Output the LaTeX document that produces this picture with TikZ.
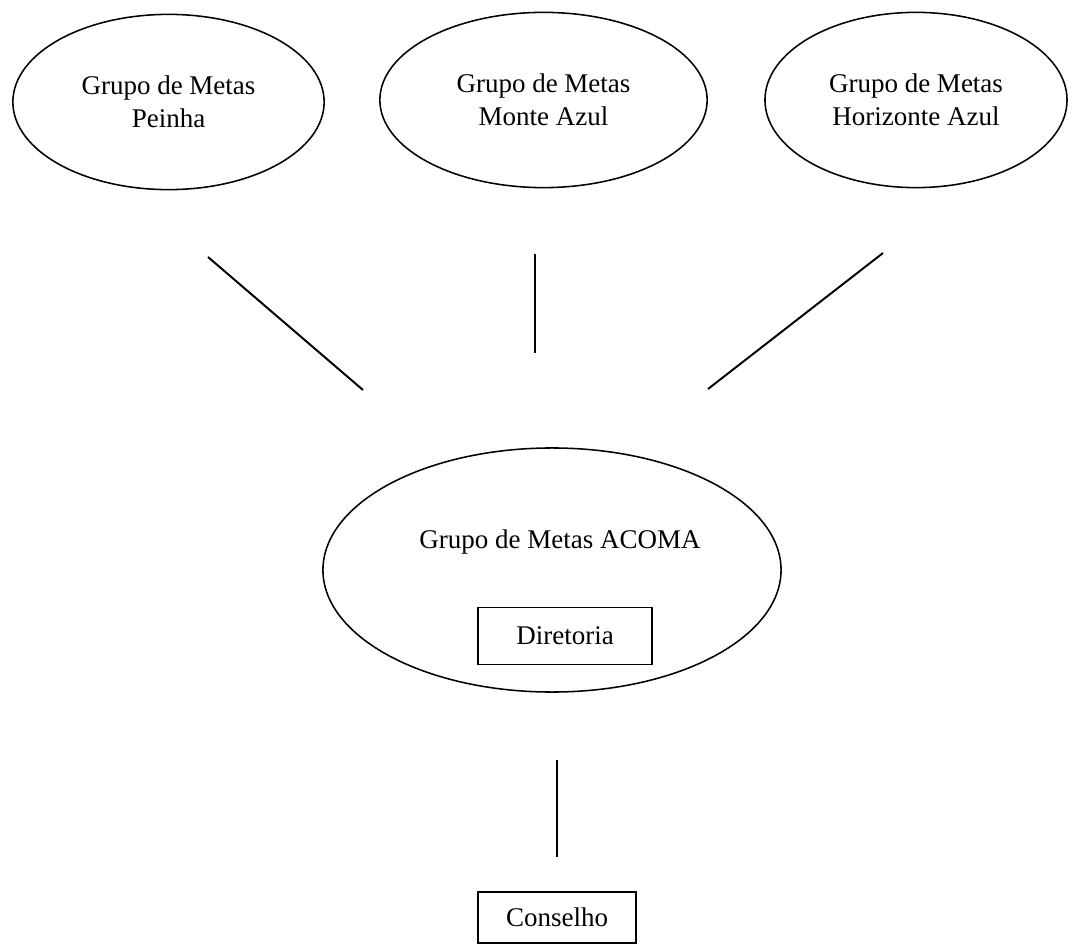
\documentclass[tikz,border=0pt]{standalone}
\usepackage{fontspec}
\setmainfont{Liberation Serif}
\usetikzlibrary{shapes.geometric}

\begin{document}
\begin{tikzpicture}[
  x=0.025cm, y=-0.025cm,
  font=\fontsize{19.2pt}{23.5pt}\selectfont,
  meta/.style={ellipse,draw,line width=1.1pt,inner sep=0pt,align=center,minimum height=4.38cm},
  caixa/.style={rectangle,draw,line width=0.8pt,inner sep=0pt},
  liga/.style={line width=1.4pt}
]
\useasboundingbox (0,0) rectangle (1068,945);

% grupos de metas (linha de cima)
\node[meta,minimum width=7.78cm] (peinha)   at (168.5,102) {Grupo de Metas\\Peinha};
\node[meta,minimum width=8.18cm] (monte)    at (543.5,100) {Grupo de Metas\\Monte Azul};
\node[meta,minimum width=7.55cm] (horiz)    at (916,100)   {Grupo de Metas\\Horizonte Azul};

% grupo central com a diretoria dentro
\node[meta,minimum width=11.45cm,minimum height=6.1cm] (acoma) at (552,570) {};
\node (acomatxt) at (560,542) {Grupo de Metas ACOMA};
\node[caixa,minimum width=4.35cm,minimum height=1.425cm] (diretoria) at (565,636) {Diretoria};

% conselho (em baixo)
\node[caixa,minimum width=3.95cm,minimum height=1.275cm] (conselho) at (557,917.5) {Conselho};

% pontas soltas dos tracos
\coordinate (p1) at (208,257);  \coordinate (p2) at (363,390);
\coordinate (m1) at (535,254);  \coordinate (m2) at (535,353);
\coordinate (h1) at (883,253);  \coordinate (h2) at (708,389);
\coordinate (c1) at (557,760);  \coordinate (c2) at (557,857);

\draw[liga] (p1) -- (p2);
\draw[liga] (m1) -- (m2);
\draw[liga] (h1) -- (h2);
\draw[liga] (c1) -- (c2);

\end{tikzpicture}
\end{document}
